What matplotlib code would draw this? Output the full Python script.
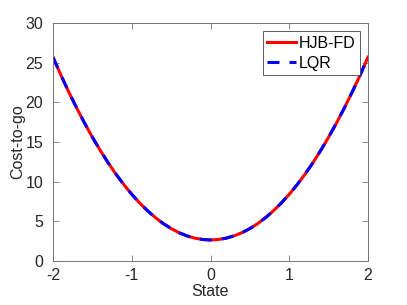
import numpy as np
import matplotlib
matplotlib.use('Agg')
import matplotlib.pyplot as plt

# values
state = [-2.0, -1.9, -1.8, -1.7, -1.6, -1.5, -1.4, -1.3, -1.2, -1.1, -1.0,
         -0.9, -0.8, -0.7, -0.6, -0.5, -0.4, -0.3, -0.2, -0.1, 0.0,
         0.1, 0.2, 0.3, 0.4, 0.5, 0.6, 0.7, 0.8, 0.9, 1.0,
         1.1, 1.2, 1.3, 1.4, 1.5, 1.6, 1.7, 1.8, 1.9, 2.0]
hjb_cost = [25.69, 23.44, 21.31, 19.30, 17.40, 15.61, 13.94, 12.38, 10.94, 9.62, 8.41,
            7.32, 6.34, 5.47, 4.72, 4.09, 3.57, 3.17, 2.88, 2.71, 2.65,
            2.71, 2.88, 3.17, 3.57, 4.09, 4.72, 5.47, 6.34, 7.32, 8.41,
            9.62, 10.94, 12.38, 13.94, 15.61, 17.40, 19.30, 21.31, 23.44, 25.69]
lqr_cost = [25.69, 23.44, 21.31, 19.30, 17.40, 15.61, 13.94, 12.38, 10.94, 9.62, 8.41,
            7.32, 6.34, 5.47, 4.72, 4.09, 3.57, 3.17, 2.88, 2.71, 2.65,
            2.71, 2.88, 3.17, 3.57, 4.09, 4.72, 5.47, 6.34, 7.32, 8.41,
            9.62, 10.94, 12.38, 13.94, 15.61, 17.40, 19.30, 21.31, 23.44, 25.69]
x_ticks = [-2, -1, 0, 1, 2]
y_ticks = [0, 5, 10, 15, 20, 25, 30]

plt.rcParams['font.family'] = ['Liberation Sans', 'DejaVu Sans']
plt.rcParams['font.size'] = 11.5

fig = plt.figure(figsize=(4.07, 3.05), dpi=100)
ax = fig.add_axes([53 / 407, 1 - 261 / 305, 315 / 407, 238 / 305])

ax.plot(state, hjb_cost, color='red', lw=2.2, label='HJB-FD')
ax.plot(state, lqr_cost, color='blue', lw=2.2, linestyle=(0, (3.9, 3.3)), label='LQR')

ax.set_xlim(-2, 2)
ax.set_ylim(0, 30)
ax.set_xticks(x_ticks)
ax.set_yticks(y_ticks)
ax.set_xticklabels([str(t) for t in x_ticks])

axis_col = '0.15'
for s in ax.spines.values():
    s.set_color('0.45')
    s.set_linewidth(0.7)
ax.tick_params(direction='in', length=4, width=0.6, color='0.45', labelcolor=axis_col,
               top=True, right=True, labelsize=11.5)
ax.tick_params(axis='x', pad=5)
ax.tick_params(axis='y', pad=7)
ax.set_xlabel('State', color=axis_col, labelpad=1)
ax.set_ylabel('Cost-to-go', color=axis_col, labelpad=0)

leg = ax.legend(loc='upper right', fancybox=False, framealpha=1, edgecolor='0.25',
                borderpad=0.3, handlelength=1.8, handletextpad=0.15, labelspacing=0.3,
                borderaxespad=0.5, fontsize=11.5)
leg.get_frame().set_linewidth(0.6)

fig.savefig('out.png', dpi=100)
